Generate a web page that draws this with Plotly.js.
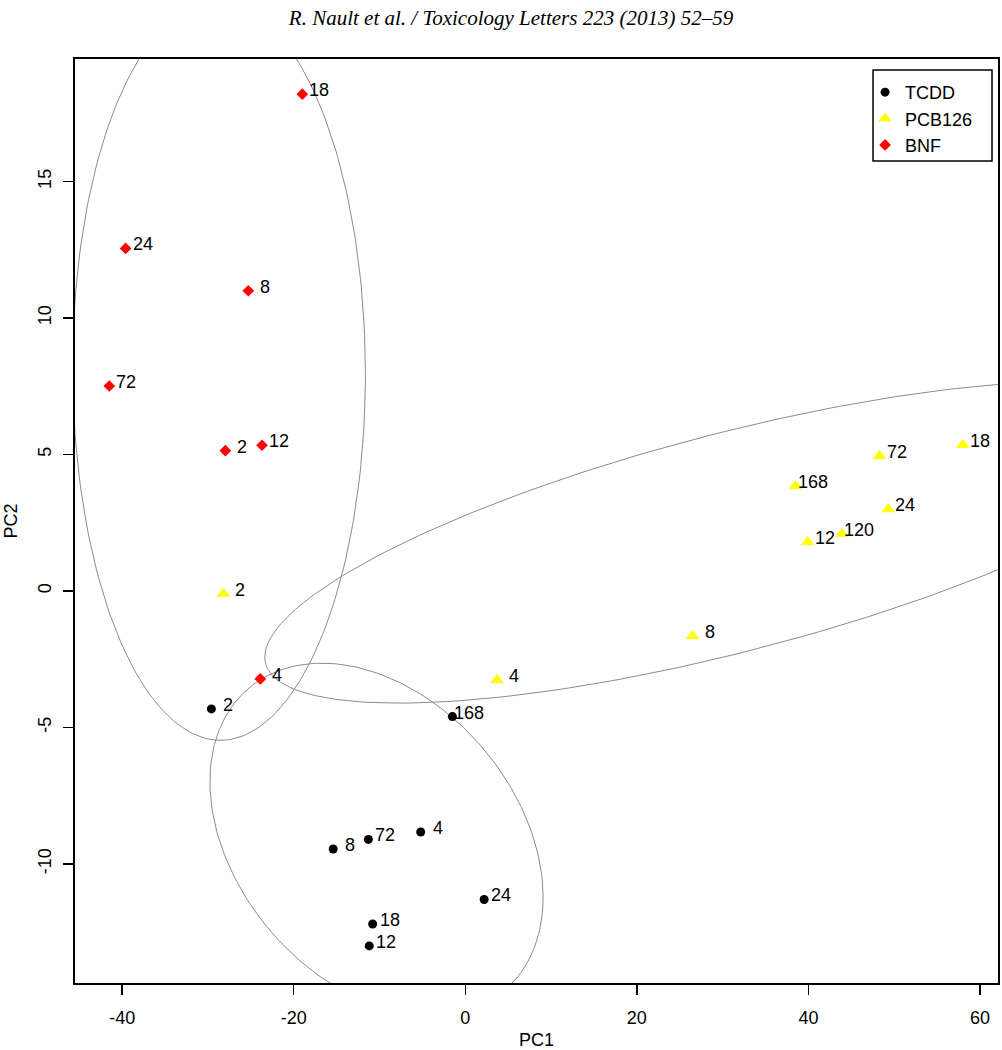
<!DOCTYPE html>
<html>
<head>
<meta charset="utf-8">
<script src="https://cdn.plot.ly/plotly-3.0.1.min.js"></script>
<style>
html, body { margin: 0; padding: 0; background: #ffffff; }
#chart { width: 1002px; height: 1050px; }
</style>
</head>
<body>
<div id="chart"></div>
<script>
// ---- Data (PC scores) ----
const tcddLabels = ['2', '4', '8', '12', '18', '24', '72', '168'];
const tcddPC1 = [-29.6, -5.2, -15.4, -11.2, -10.8, 2.2, -11.3, -1.5];
const tcddPC2 = [-4.32, -8.83, -9.45, -13.0, -12.2, -11.3, -9.1, -4.6];

const pcbLabels = ['2', '4', '8', '12', '18', '24', '72', '120', '168'];
const pcbPC1 = [-28.2, 3.7, 26.5, 39.9, 58.0, 49.3, 48.3, 43.9, 38.5];
const pcbPC2 = [-0.1, -3.26, -1.65, 1.8, 5.35, 3.0, 4.95, 2.1, 3.85];

const bnfLabels = ['2', '4', '8', '12', '18', '24', '72'];
const bnfPC1 = [-27.97, -23.9, -25.3, -23.7, -19.0, -39.6, -41.5];
const bnfPC2 = [5.14, -3.22, 11.0, 5.34, 18.2, 12.55, 7.51];

const groupNames = ['TCDD', 'PCB126', 'BNF'];

const xTickVals = [-40, -20, 0, 20, 40, 60];
const xTickText = ['-40', '-20', '0', '20', '40', '60'];
const yTickVals = [-10, -5, 0, 5, 10, 15];
const yTickText = ['-10', '-5', '0', '5', '10', '15'];

const headerText = 'R. Nault et al. / Toxicology Letters 223 (2013) 52\u201359';

// ---- Styles ----
const FONT = 'Liberation Sans, Arial, sans-serif';
const groups = [
  { name: groupNames[0], x: tcddPC1, y: tcddPC2, labels: tcddLabels,
    marker: { symbol: 'circle', color: '#000000', size: 9 } },
  { name: groupNames[1], x: pcbPC1, y: pcbPC2, labels: pcbLabels,
    marker: { symbol: 'triangle-up', color: '#FFFF00', size: 12 } },
  { name: groupNames[2], x: bnfPC1, y: bnfPC2, labels: bnfLabels,
    marker: { symbol: 'diamond', color: '#FF0000', size: 9 } }
];

// 2-SD covariance ellipse computed from each group's points
function ellipseOf(xs, ys, k, nPts) {
  const n = xs.length;
  const mx = xs.reduce((a, b) => a + b, 0) / n;
  const my = ys.reduce((a, b) => a + b, 0) / n;
  let sxx = 0, syy = 0, sxy = 0;
  for (let i = 0; i < n; i++) {
    sxx += (xs[i] - mx) * (xs[i] - mx);
    syy += (ys[i] - my) * (ys[i] - my);
    sxy += (xs[i] - mx) * (ys[i] - my);
  }
  sxx /= (n - 1); syy /= (n - 1); sxy /= (n - 1);
  const a = Math.sqrt(sxx);
  const b = sxy / a;
  const c = Math.sqrt(syy - b * b);
  const ex = [], ey = [];
  for (let j = 0; j <= nPts; j++) {
    const t = 2 * Math.PI * j / nPts;
    const u = Math.cos(t), v = Math.sin(t);
    ex.push(mx + k * (a * u));
    ey.push(my + k * (b * u + c * v));
  }
  return { x: ex, y: ey };
}

const traces = [];
groups.forEach(g => {
  const e = ellipseOf(g.x, g.y, 2, 240);
  traces.push({
    type: 'scatter', mode: 'lines', x: e.x, y: e.y,
    line: { color: '#8c8c8c', width: 1 }, hoverinfo: 'skip', showlegend: false
  });
});
groups.forEach(g => {
  traces.push({
    type: 'scatter', mode: 'markers', name: g.name, x: g.x, y: g.y,
    marker: Object.assign({ line: { width: 0 } }, g.marker),
    cliponaxis: false
  });
});

const annotations = [];
groups.forEach(g => {
  g.x.forEach((xv, i) => {
    annotations.push({
      x: xv, y: g.y[i], xref: 'x', yref: 'y', text: g.labels[i],
      showarrow: false, xanchor: 'center', yanchor: 'middle',
      xshift: 17, yshift: 4,
      font: { family: FONT, size: 18, color: '#000000' }
    });
  });
});

const layout = {
  width: 1002, height: 1050,
  margin: { l: 75, r: 4, t: 59, b: 67, pad: 0 },
  paper_bgcolor: '#ffffff', plot_bgcolor: '#ffffff',
  font: { family: FONT, size: 18, color: '#000000' },
  title: {
    text: headerText, x: 511 / 1002, xanchor: 'center', xref: 'container',
    y: 1 - 18 / 1050, yanchor: 'middle', yref: 'container',
    font: { family: 'Liberation Serif, serif', size: 21, style: 'italic', color: '#000000' }
  },
  xaxis: {
    range: [-45.5, 62.1], showgrid: false, zeroline: false,
    showline: true, mirror: true, linecolor: '#000000', linewidth: 2,
    ticks: 'outside', ticklen: 10, tickwidth: 1.5, tickcolor: '#000000',
    tickvals: xTickVals, ticktext: xTickText,
    ticklabelstandoff: 7,
    tickfont: { family: FONT, size: 18, color: '#000000' },
    title: { text: 'PC1', standoff: 7, font: { family: FONT, size: 18, color: '#000000' } }
  },
  yaxis: {
    range: [-14.36, 19.49], showgrid: false, zeroline: false,
    showline: true, mirror: true, linecolor: '#000000', linewidth: 2,
    ticks: 'outside', ticklen: 10, tickwidth: 1.5, tickcolor: '#000000',
    tickvals: yTickVals, ticktext: yTickText, tickangle: -90,
    ticklabelstandoff: 5,
    tickfont: { family: FONT, size: 18, color: '#000000' },
    title: { text: 'PC2', standoff: 12, font: { family: FONT, size: 18, color: '#000000' } }
  },
  showlegend: true,
  legend: {
    x: 0.856, xanchor: 'left', y: 0.9838, yanchor: 'top',
    bgcolor: 'rgba(0,0,0,0)', borderwidth: 0,
    font: { family: FONT, size: 18, color: '#000000' },
    itemclick: false, itemdoubleclick: false
  },
  shapes: [{
    type: 'rect', xref: 'paper', yref: 'paper', layer: 'above',
    x0: 0.8646, x1: 0.9935, y0: 0.8896, y1: 0.988,
    line: { color: '#000000', width: 1.5 }, fillcolor: 'rgba(0,0,0,0)'
  }],
  annotations: annotations
};

Plotly.newPlot('chart', traces, layout, { staticPlot: true, displayModeBar: false });
</script>
</body>
</html>
